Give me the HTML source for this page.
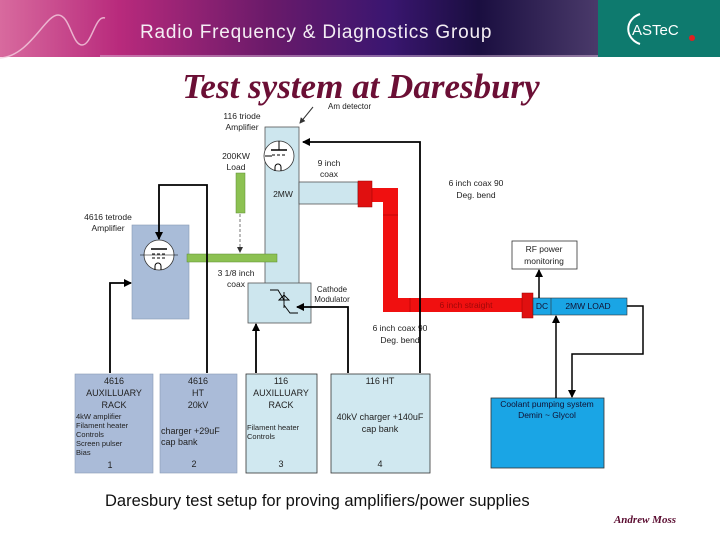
<!DOCTYPE html>
<html><head><meta charset="utf-8"><style>
html,body{margin:0;padding:0;background:#fff;}
body{width:720px;height:540px;overflow:hidden;position:relative;font-family:"Liberation Sans",sans-serif;}
</style></head><body>
<svg width="720" height="540" viewBox="0 0 720 540" xmlns="http://www.w3.org/2000/svg" style="position:absolute;left:0;top:0">
<defs>
<linearGradient id="hg" x1="0" y1="0" x2="1" y2="0">
<stop offset="0" stop-color="#d86a9e"/>
<stop offset="0.2" stop-color="#b82a7c"/>
<stop offset="0.45" stop-color="#6a1a6a"/>
<stop offset="0.65" stop-color="#3a1670"/>
<stop offset="0.8" stop-color="#1a0e40"/>
<stop offset="1" stop-color="#4a3a6a"/>
</linearGradient>
<marker id="ar" markerWidth="8" markerHeight="8" refX="7" refY="4" orient="auto" markerUnits="userSpaceOnUse"><path d="M0,0 L8,4 L0,8 z" fill="#000"/></marker>
<marker id="ars" markerWidth="6" markerHeight="6" refX="5" refY="3" orient="auto" markerUnits="userSpaceOnUse"><path d="M0,0 L6,3 L0,6 z" fill="#333"/></marker>
</defs>
<rect x="0" y="0" width="598" height="57" fill="url(#hg)"/>
<path d="M0,58 C30,56 45,15 58,15 C70,15 72,45 82,45 C92,45 95,15 105,18" stroke="#f4d0e0" stroke-width="1.5" fill="none" opacity="0.8"/>
<line x1="100" y1="56" x2="598" y2="56" stroke="#d8b8d8" stroke-width="1"/>
<text x="140" y="38" font-size="19" fill="#f4eef4" letter-spacing="0.8">Radio Frequency &amp; Diagnostics Group</text>
<rect x="598" y="0" width="122" height="57" fill="#0e7a6e"/>
<path d="M640,14 A18,16 0 0 0 640,44" stroke="#fff" stroke-width="2" fill="none"/>
<text x="632" y="35" font-size="15" fill="#fff">ASTeC</text>
<circle cx="692" cy="38" r="3" fill="#e02020"/>
<text x="361" y="98" text-anchor="middle" font-family="Liberation Serif,serif" font-style="italic" font-weight="bold" font-size="35" fill="#6b0f35">Test system at Daresbury</text>

<rect x="265" y="127" width="34" height="157" fill="#cde6ee" stroke="#555" stroke-width="0.8"/>
<rect x="299" y="182" width="59" height="22" fill="#cde6ee" stroke="#555" stroke-width="0.8"/>
<circle cx="279" cy="156" r="15" fill="#fff" stroke="#333" stroke-width="0.8"/>
<line x1="279" y1="141" x2="279" y2="150" stroke="#000"/>
<line x1="271" y1="150" x2="287" y2="150" stroke="#000" stroke-width="1.5"/>
<line x1="272" y1="155" x2="287" y2="155" stroke="#000" stroke-dasharray="3,2"/>
<line x1="265" y1="156" x2="272" y2="156" stroke="#000"/>
<path d="M275,171 v-4 a3,3 0 0 1 6,0 v4" fill="none" stroke="#000"/>
<line x1="313" y1="107" x2="300" y2="123" stroke="#333" marker-end="url(#ars)"/>
<text x="328" y="109" font-size="8" fill="#222">Am detector</text>
<text x="242" y="119" font-size="8.5" text-anchor="middle" fill="#222">116 triode</text>
<text x="242" y="130" font-size="8.5" text-anchor="middle" fill="#222">Amplifier</text>
<text x="329" y="166" font-size="8.5" text-anchor="middle" fill="#222">9 inch</text>
<text x="329" y="177" font-size="8.5" text-anchor="middle" fill="#222">coax</text>
<text x="283" y="197" font-size="8.5" text-anchor="middle" fill="#222">2MW</text>
<path d="M372,188 H398 V298 H522 V312 H383 V202 H372 Z" fill="#f01010"/>
<rect x="358" y="181" width="14" height="26" fill="#e01010" stroke="#900" stroke-width="0.5"/>
<rect x="522" y="293" width="11" height="25" fill="#e01010" stroke="#900" stroke-width="0.5"/>
<line x1="383" y1="215" x2="398" y2="215" stroke="#900" stroke-width="0.5"/>
<line x1="410" y1="298" x2="410" y2="312" stroke="#900" stroke-width="0.5"/>
<text x="466" y="308" font-size="8.5" text-anchor="middle" fill="#a00808">6 inch straight</text>
<rect x="533" y="298" width="94" height="17" fill="#1aa5e5" stroke="#333" stroke-width="0.6"/>
<line x1="551" y1="298" x2="551" y2="315" stroke="#333" stroke-width="0.6"/>
<text x="542" y="309" font-size="8.5" text-anchor="middle" fill="#113">DC</text>
<text x="588" y="309" font-size="8.5" text-anchor="middle" fill="#113">2MW LOAD</text>
<rect x="512" y="241" width="65" height="28" fill="#fff" stroke="#333" stroke-width="0.8"/>
<text x="544" y="252" font-size="8.5" text-anchor="middle" fill="#222">RF power</text>
<text x="544" y="264" font-size="8.5" text-anchor="middle" fill="#222">monitoring</text>
<line x1="539" y1="298" x2="539" y2="270" stroke="#000" stroke-width="1.5" marker-end="url(#ar)"/>
<rect x="491" y="398" width="113" height="70" fill="#1aa5e5" stroke="#333" stroke-width="0.8"/>
<text x="547" y="407" font-size="8.5" text-anchor="middle" fill="#113">Coolant pumping system</text>
<text x="547" y="418" font-size="8.5" text-anchor="middle" fill="#113">Demin ~ Glycol</text>
<line x1="556" y1="398" x2="556" y2="316" stroke="#000" stroke-width="1.5" marker-end="url(#ar)"/>
<path d="M627,306 H643 V354 H572 V397" fill="none" stroke="#000" stroke-width="1.5" marker-end="url(#ar)"/>
<text x="476" y="186" font-size="8.5" text-anchor="middle" fill="#222">6 inch coax 90</text>
<text x="476" y="198" font-size="8.5" text-anchor="middle" fill="#222">Deg. bend</text>
<text x="400" y="331" font-size="8.5" text-anchor="middle" fill="#222">6 inch coax 90</text>
<text x="400" y="343" font-size="8.5" text-anchor="middle" fill="#222">Deg. bend</text>
<rect x="132" y="225" width="57" height="94" fill="#a9bcd8" stroke="#8899b5" stroke-width="0.6"/>
<circle cx="159" cy="255" r="15" fill="#fff" stroke="#333" stroke-width="0.8"/>
<line x1="151" y1="249" x2="167" y2="249" stroke="#000" stroke-width="1.5"/>
<line x1="152" y1="254" x2="167" y2="254" stroke="#000" stroke-dasharray="3,2"/>
<line x1="152" y1="258" x2="167" y2="258" stroke="#000" stroke-dasharray="3,2"/>
<line x1="140" y1="255" x2="178" y2="255" stroke="#000" stroke-width="0.6"/>
<path d="M155,270 v-4 a3,3 0 0 1 6,0 v4" fill="none" stroke="#000"/>
<text x="108" y="220" font-size="8.5" text-anchor="middle" fill="#222">4616 tetrode</text>
<text x="108" y="231" font-size="8.5" text-anchor="middle" fill="#222">Amplifier</text>
<rect x="187" y="254" width="90" height="8" fill="#8cc152" stroke="#5a8a30" stroke-width="0.5"/>
<rect x="236" y="173" width="9" height="40" fill="#8cc152" stroke="#5a8a30" stroke-width="0.5"/>
<line x1="240" y1="214" x2="240" y2="252" stroke="#777" stroke-dasharray="3,2" marker-end="url(#ars)"/>
<text x="236" y="159" font-size="8.5" text-anchor="middle" fill="#222">200KW</text>
<text x="236" y="170" font-size="8.5" text-anchor="middle" fill="#222">Load</text>
<text x="236" y="276" font-size="8.5" text-anchor="middle" fill="#222">3 1/8 inch</text>
<text x="236" y="287" font-size="8.5" text-anchor="middle" fill="#222">coax</text>
<rect x="248" y="283" width="63" height="40" fill="#cde6ee" stroke="#555" stroke-width="0.8"/>
<path d="M270,290 h8 l6,10 M284,292 v16 M279,300 l5,-5 5,5 z M284,305 l6,8 h8" fill="none" stroke="#000" stroke-width="0.9"/>
<text x="332" y="292" font-size="8" text-anchor="middle" fill="#222">Cathode</text>
<text x="332" y="302" font-size="8" text-anchor="middle" fill="#222">Modulator</text>
<path d="M420,373 V142 H303" fill="none" stroke="#000" stroke-width="1.8" marker-end="url(#ar)"/>
<path d="M207,373 V185 H159 V239" fill="none" stroke="#000" stroke-width="1.8" marker-end="url(#ar)"/>
<path d="M110,373 V283 H131" fill="none" stroke="#000" stroke-width="1.8" marker-end="url(#ar)"/>
<path d="M348,373 V307 H297" fill="none" stroke="#000" stroke-width="1.8" marker-end="url(#ar)"/>
<line x1="256" y1="373" x2="256" y2="324" stroke="#000" stroke-width="1.8" marker-end="url(#ar)"/>
<rect x="75" y="374" width="78" height="99" fill="#aabbd8" stroke="#8899b5" stroke-width="0.6"/>
<rect x="160" y="374" width="77" height="99" fill="#aabbd8" stroke="#8899b5" stroke-width="0.6"/>
<rect x="246" y="374" width="71" height="99" fill="#d0e8f0" stroke="#333" stroke-width="0.8"/>
<rect x="331" y="374" width="99" height="99" fill="#d0e8f0" stroke="#333" stroke-width="0.8"/>
<g font-size="9" fill="#222" text-anchor="middle">
<text x="114" y="384">4616</text><text x="114" y="396">AUXILLUARY</text><text x="114" y="408">RACK</text>
<text x="198" y="384">4616</text><text x="198" y="396">HT</text><text x="198" y="408">20kV</text>
<text x="281" y="384">116</text><text x="281" y="396">AUXILLUARY</text><text x="281" y="408">RACK</text>
<text x="380" y="384">116 HT</text>
<text x="380" y="420">40kV charger +140uF</text><text x="380" y="432">cap bank</text>
<text x="110" y="468">1</text><text x="194" y="467">2</text><text x="281" y="467">3</text><text x="380" y="467">4</text>
</g>
<g font-size="7.5" fill="#222">
<text x="76" y="419">4kW amplifier</text><text x="76" y="428">Filament heater</text><text x="76" y="437">Controls</text><text x="76" y="446">Screen pulser</text><text x="76" y="455">Bias</text>
<text x="247" y="430">Filament heater</text><text x="247" y="439">Controls</text>
</g>
<text x="161" y="434" font-size="9" fill="#222">charger +29uF</text>
<text x="161" y="445" font-size="9" fill="#222">cap bank</text>
<text x="105" y="506" font-size="16.5" fill="#111">Daresbury test setup for proving amplifiers/power supplies</text>
<text x="645" y="523" text-anchor="middle" font-family="Liberation Serif,serif" font-style="italic" font-weight="bold" font-size="11" fill="#5a0c30">Andrew Moss</text>
</svg>
</body></html>
